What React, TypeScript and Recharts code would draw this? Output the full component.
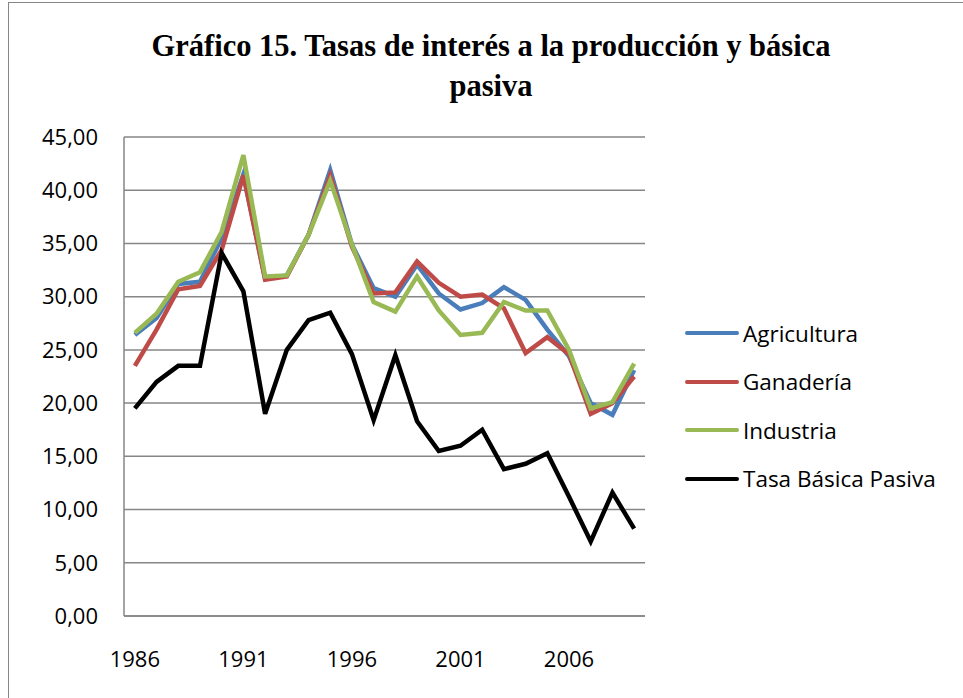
import { LineChart, Line, XAxis, YAxis, CartesianGrid, Legend } from "recharts";

const YEARS = [
  "1986", "1987", "1988", "1989", "1990", "1991", "1992", "1993", "1994", "1995", "1996", "1997",
  "1998", "1999", "2000", "2001", "2002", "2003", "2004", "2005", "2006", "2007", "2008", "2009",
];
const AGRICULTURA = [
  26.4, 28.0, 31.2, 31.4, 35.5, 41.5, 31.7, 32.0, 35.8, 41.9, 34.9, 30.8,
  30.0, 33.0, 30.3, 28.8, 29.4, 30.9, 29.7, 26.9, 24.4, 20.0, 18.9, 23.1,
];
const GANADERIA = [
  23.5, 26.9, 30.7, 31.0, 34.4, 41.4, 31.6, 31.9, 35.8, 41.4, 34.7, 30.3,
  30.4, 33.3, 31.3, 30.0, 30.2, 28.9, 24.7, 26.2, 24.6, 19.0, 20.0, 22.5,
];
const INDUSTRIA = [
  26.6, 28.4, 31.4, 32.3, 36.1, 43.3, 31.9, 32.0, 35.8, 40.9, 34.9, 29.5,
  28.6, 31.9, 28.7, 26.4, 26.6, 29.5, 28.7, 28.7, 25.0, 19.5, 20.1, 23.7,
];
const TASA_PASIVA = [
  19.5, 22.0, 23.5, 23.5, 34.1, 30.5, 19.0, 25.0, 27.8, 28.5, 24.6, 18.4,
  24.5, 18.3, 15.5, 16.0, 17.5, 13.8, 14.3, 15.3, 11.2, 7.0, 11.6, 8.2,
];
const Y_TICKS = [0, 5, 10, 15, 20, 25, 30, 35, 40, 45];

const SERIES = [
  { key: "agri", name: "Agricultura", color: "#4A7EBB", values: AGRICULTURA },
  { key: "gana", name: "Ganadería", color: "#BE4B48", values: GANADERIA },
  { key: "indu", name: "Industria", color: "#98B954", values: INDUSTRIA },
  { key: "tasa", name: "Tasa Básica Pasiva", color: "#000000", values: TASA_PASIVA },
];

const data = YEARS.map((year, i) => {
  const row: Record<string, string | number> = { year };
  SERIES.forEach((s) => {
    row[s.key] = s.values[i];
  });
  return row;
});

const GRID = "#868686";
const FONT = "'Open Sans', sans-serif";
const fmt = (v: number) => v.toFixed(2).replace(".", ",");

function LegendBox() {
  return (
    <div style={{ fontFamily: FONT, fontSize: 22.5, color: "#000" }}>
      {SERIES.map((s) => (
        <div key={s.key} style={{ display: "flex", alignItems: "center", height: 48.5 }}>
          <div
            style={{
              width: 54,
              height: 4,
              borderRadius: 2,
              background: s.color,
              marginRight: 4,
            }}
          />
          <span style={{ whiteSpace: "nowrap" }}>{s.name}</span>
        </div>
      ))}
    </div>
  );
}

export default function App() {
  return (
    <div
      style={{
        position: "absolute",
        left: 0,
        top: 0,
        width: 963,
        height: 698,
        background: "#fff",
        overflow: "hidden",
      }}
    >
      <div
        style={{
          position: "absolute",
          left: 8,
          top: 2,
          width: 980,
          height: 720,
          borderLeft: "1.5px solid " + GRID,
          borderTop: "1.5px solid " + GRID,
        }}
      />
      <div
        style={{
          position: "absolute",
          left: 0,
          top: 27,
          width: 982,
          textAlign: "center",
          fontFamily: "'Liberation Serif', serif",
          fontWeight: "bold",
          fontSize: 30.5,
          lineHeight: "39.5px",
          color: "#000",
        }}
      >
        Gráfico 15. Tasas de interés a la producción y básica
        <br />
        pasiva
      </div>
      <LineChart
        width={963}
        height={698}
        data={data}
        margin={{ top: 137, right: 318, bottom: 22, left: 24 }}
        style={{ position: "absolute", left: 0, top: 0 }}
      >
        <CartesianGrid vertical={false} stroke={GRID} strokeWidth={1.5} />
        <XAxis
          dataKey="year"
          interval={4}
          height={60}
          padding={{ left: 10.85, right: 10.85 }}
          tickLine={false}
          tickSize={0}
          tickMargin={35}
          axisLine={{ stroke: GRID, strokeWidth: 1.5 }}
          tick={{ fontFamily: FONT, fontSize: 22, fill: "#000" }}
        />
        <YAxis
          width={100}
          domain={[0, 45]}
          ticks={Y_TICKS}
          tickFormatter={fmt}
          tickLine={false}
          tickSize={0}
          tickMargin={26}
          axisLine={{ stroke: GRID, strokeWidth: 1.5 }}
          tick={{ fontFamily: FONT, fontSize: 22, fill: "#000" }}
        />
        <Legend
          layout="vertical"
          align="center"
          verticalAlign="middle"
          content={() => <LegendBox />}
          wrapperStyle={{ left: 685, top: 309, width: 270 }}
        />
        {SERIES.map((s) => (
          <Line
            key={s.key}
            dataKey={s.key}
            name={s.name}
            stroke={s.color}
            strokeWidth={4.5}
            dot={false}
            activeDot={false}
            isAnimationActive={false}
          />
        ))}
      </LineChart>
    </div>
  );
}
